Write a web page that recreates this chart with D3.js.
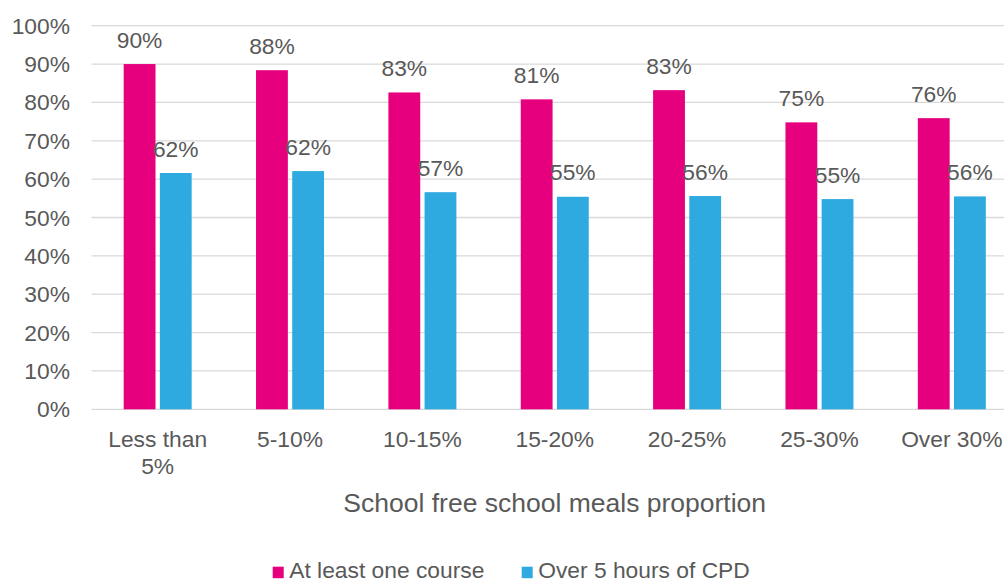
<!DOCTYPE html>
<html><head><meta charset="utf-8">
<script src="https://cdn.jsdelivr.net/npm/d3@7"></script>
<style>body{margin:0;background:#fff}svg{display:block}text{font-family:"Liberation Sans",Arial,sans-serif;fill:#595959}</style>
</head><body><svg id="c" width="1004" height="581"></svg>
<script>
const categories = [["Less than","5%"],["5-10%"],["10-15%"],["15-20%"],["20-25%"],["25-30%"],["Over 30%"]];
const seriesNames = ["At least one course","Over 5 hours of CPD"];
const atLeastOne = [90, 88.4, 82.6, 80.8, 83.2, 74.8, 75.9];
const over5Hours = [61.6, 62.1, 56.6, 55.4, 55.6, 54.8, 55.5];
const labelsA = ["90%","88%","83%","81%","83%","75%","76%"];
const labelsB = ["62%","62%","57%","55%","56%","55%","56%"];
const yTicks = [0,10,20,30,40,50,60,70,80,90,100];
const colors = ["#E6007E","#2EAAE1"];

const svg = d3.select("#c");
const fs = 22.8;
const x = d3.scaleBand().domain(d3.range(categories.length)).range([91.5, 1018]).paddingInner(0).paddingOuter(0);
const x1 = d3.scaleBand().domain([0,1]).range([0, 68]).paddingInner(0.12);
const y = d3.scaleLinear().domain([0,100]).range([409.3, 25.7]);

// gridlines
svg.append("g").selectAll("line").data(yTicks).join("line")
  .attr("x1",91.5).attr("x2",1018).attr("y1",d=>y(d)).attr("y2",d=>y(d))
  .attr("stroke","#d9d9d9").attr("stroke-width",1.3);

// y tick labels
svg.append("g").selectAll("text").data(yTicks).join("text")
  .attr("x",70).attr("y",d=>y(d)+8).attr("text-anchor","end").attr("font-size",fs)
  .text(d=>d+"%");

const series = [atLeastOne, over5Hours];
const labels = [labelsA, labelsB];
series.forEach((vals, s) => {
  const g = svg.append("g");
  const off = (x.bandwidth()-68)/2;
  g.selectAll("rect").data(vals).join("rect")
    .attr("x",(d,i)=>x(i)+off+x1(s)).attr("width",x1.bandwidth())
    .attr("y",d=>y(d)).attr("height",d=>y(0)-y(d)).attr("fill",colors[s]);
  g.selectAll("text").data(vals).join("text")
    .attr("x",(d,i)=>x(i)+off+x1(s)+x1.bandwidth()/2).attr("y",d=>y(d)-16.5)
    .attr("text-anchor","middle").attr("font-size",fs).text((d,i)=>labels[s][i]);
});

// category labels
const cg = svg.append("g").selectAll("text").data(categories).join("text")
  .attr("text-anchor","middle").attr("font-size",fs)
  .attr("x",(d,i)=>x(i)+x.bandwidth()/2).attr("y",447.3);
cg.selectAll("tspan").data(d=>d).join("tspan")
  .attr("x",function(){return d3.select(this.parentNode).attr("x");})
  .attr("dy",(d,i)=>i===0?0:26.4).text(d=>d);

// axis title
svg.append("text").attr("x",554.7).attr("y",512.3).attr("text-anchor","middle").attr("font-size",26.5)
  .text("School free school meals proportion");

// legend
const legX = [272.7, 521.7];
const lg = svg.append("g").selectAll("g").data(seriesNames).join("g");
lg.append("rect").attr("x",(d,i)=>legX[i]).attr("y",566.7).attr("width",11).attr("height",11.5).attr("fill",(d,i)=>colors[i]);
lg.append("text").attr("x",(d,i)=>legX[i]+16.5).attr("y",577.5).attr("font-size",fs).text(d=>d);
</script></body></html>
